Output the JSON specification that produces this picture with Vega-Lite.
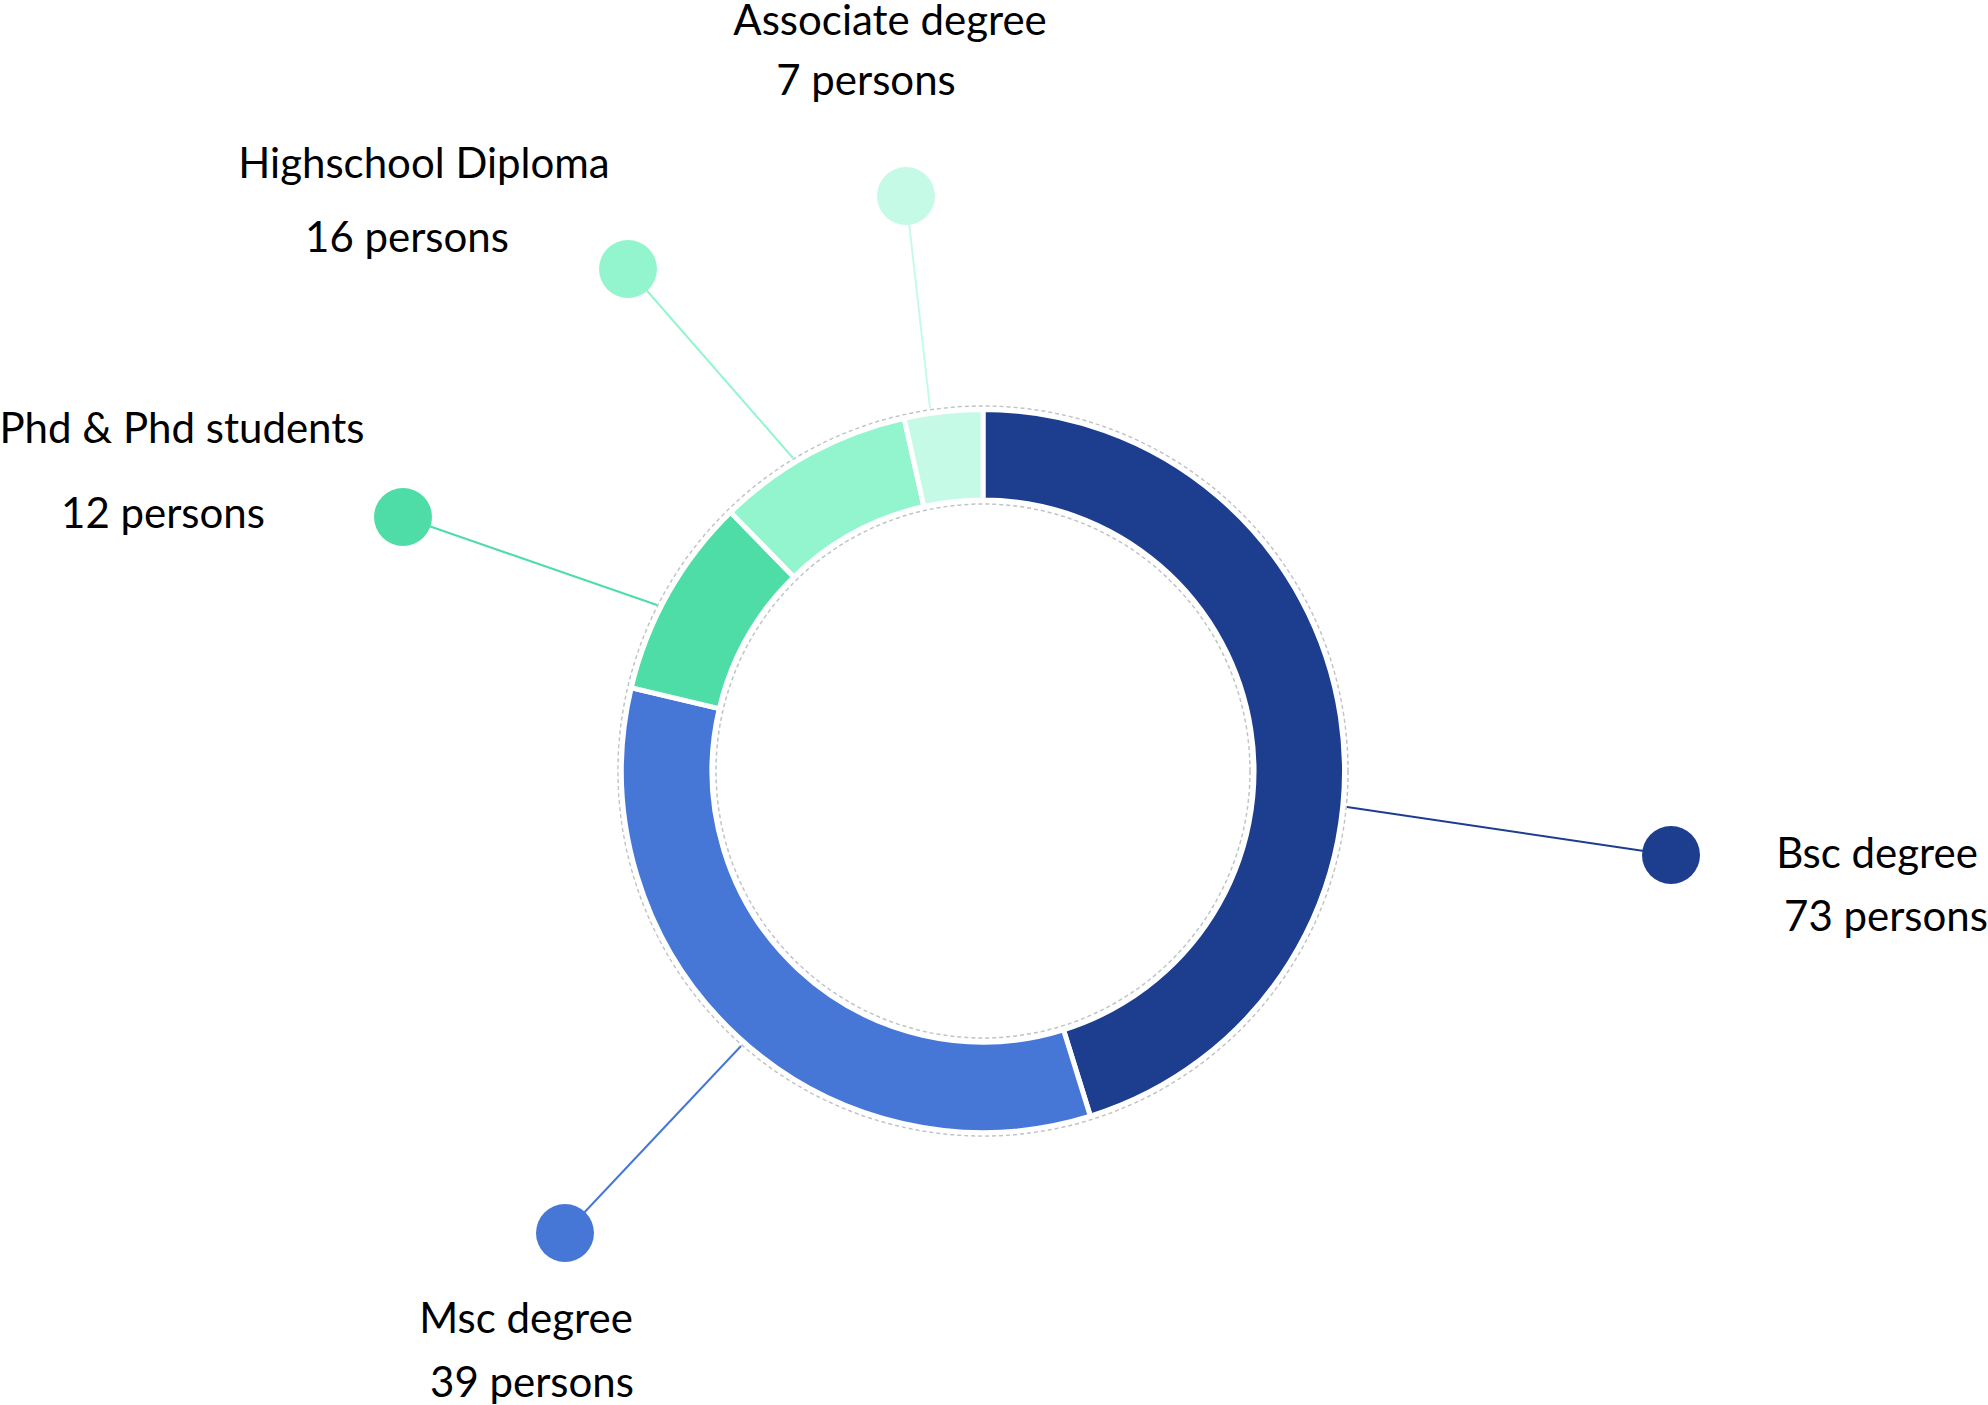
{
  "$schema": "https://vega.github.io/schema/vega-lite/v6.json",
  "width": 1966,
  "height": 1268,
  "autosize": {"type": "none"},
  "padding": {"left": 0, "top": 137, "right": 22, "bottom": 0},
  "background": "white",
  "config": {"view": {"stroke": null}, "axis": {"disable": true}},
  "datasets": {
    "degrees": [
      {"category": "Bsc degree", "persons": 73, "arc_share": 45.2, "rank": 1, "dot_x": 688, "dot_y": 84, "edge_x": 364, "edge_y": 36},
      {"category": "Msc degree", "persons": 39, "arc_share": 33.5, "rank": 2, "dot_x": -418, "dot_y": 462, "edge_x": -242, "edge_y": 275},
      {"category": "Phd & Phd students", "persons": 12, "arc_share": 9.0, "rank": 3, "dot_x": -580, "dot_y": -254, "edge_x": -326, "edge_y": -166},
      {"category": "Highschool Diploma", "persons": 16, "arc_share": 8.8, "rank": 4, "dot_x": -355, "dot_y": -502, "edge_x": -190, "edge_y": -313},
      {"category": "Associate degree", "persons": 7, "arc_share": 3.5, "rank": 5, "dot_x": -77, "dot_y": -575, "edge_x": -53, "edge_y": -363}
    ],
    "labels": [
      {"category": "Associate degree", "text": "Associate degree", "cx": -93, "cy": -736},
      {"category": "Associate degree", "text": "7 persons", "cx": -117, "cy": -676},
      {"category": "Highschool Diploma", "text": "Highschool Diploma", "cx": -559, "cy": -593},
      {"category": "Highschool Diploma", "text": "16 persons", "cx": -576, "cy": -519},
      {"category": "Phd & Phd students", "text": "Phd & Phd students", "cx": -801, "cy": -328},
      {"category": "Phd & Phd students", "text": "12 persons", "cx": -820, "cy": -243},
      {"category": "Bsc degree", "text": "Bsc degree", "cx": 894, "cy": 97},
      {"category": "Bsc degree", "text": "73 persons", "cx": 903, "cy": 160},
      {"category": "Msc degree", "text": "Msc degree", "cx": -457, "cy": 562},
      {"category": "Msc degree", "text": "39 persons", "cx": -451, "cy": 626}
    ]
  },
  "layer": [
    {
      "data": {"values": [{"ring": "outer"}]},
      "mark": {"type": "point", "shape": "circle", "filled": false, "size": 532900, "stroke": "#bfc4c5", "strokeWidth": 1.5, "strokeDash": [4, 3], "opacity": 1},
      "encoding": {
        "x": {"datum": 0, "type": "quantitative", "scale": {"domain": [-983, 983], "nice": false, "zero": false}},
        "y": {"datum": 0, "type": "quantitative", "scale": {"domain": [-634, 634], "reverse": true, "nice": false, "zero": false}}
      }
    },
    {
      "data": {"values": [{"ring": "inner"}]},
      "mark": {"type": "point", "shape": "circle", "filled": false, "size": 285156, "stroke": "#bfc4c5", "strokeWidth": 1.5, "strokeDash": [4, 3], "opacity": 1},
      "encoding": {
        "x": {"datum": 0, "type": "quantitative", "scale": {"domain": [-983, 983], "nice": false, "zero": false}},
        "y": {"datum": 0, "type": "quantitative", "scale": {"domain": [-634, 634], "reverse": true, "nice": false, "zero": false}}
      }
    },
    {
      "data": {"name": "degrees"},
      "mark": {"type": "arc", "outerRadius": 361.5, "innerRadius": 271, "stroke": "white", "strokeWidth": 5},
      "encoding": {
        "theta": {"field": "arc_share", "type": "quantitative", "stack": true},
        "order": {"field": "rank", "type": "quantitative"},
        "color": {
          "field": "category", "type": "nominal", "legend": null,
          "scale": {
            "domain": ["Bsc degree", "Msc degree", "Phd & Phd students", "Highschool Diploma", "Associate degree"],
            "range": ["#1d3e8e", "#4777d6", "#4edda7", "#93f5cd", "#c5fbe6"]
          }
        }
      }
    },
    {
      "data": {"name": "degrees"},
      "mark": {"type": "rule", "strokeWidth": 2},
      "encoding": {
        "x": {"field": "edge_x", "type": "quantitative", "scale": {"domain": [-983, 983], "nice": false, "zero": false}},
        "y": {"field": "edge_y", "type": "quantitative", "scale": {"domain": [-634, 634], "reverse": true, "nice": false, "zero": false}},
        "x2": {"field": "dot_x"},
        "y2": {"field": "dot_y"},
        "color": {"field": "category", "type": "nominal", "legend": null}
      }
    },
    {
      "data": {"name": "degrees"},
      "mark": {"type": "point", "shape": "circle", "filled": true, "size": 3364, "opacity": 1},
      "encoding": {
        "x": {"field": "dot_x", "type": "quantitative", "scale": {"domain": [-983, 983], "nice": false, "zero": false}},
        "y": {"field": "dot_y", "type": "quantitative", "scale": {"domain": [-634, 634], "reverse": true, "nice": false, "zero": false}},
        "color": {"field": "category", "type": "nominal", "legend": null}
      }
    },
    {
      "data": {"name": "labels"},
      "mark": {"type": "text", "font": "Lato", "fontSize": 42, "align": "center", "baseline": "alphabetic", "color": "#000000"},
      "encoding": {
        "x": {"field": "cx", "type": "quantitative", "scale": {"domain": [-983, 983], "nice": false, "zero": false}},
        "y": {"field": "cy", "type": "quantitative", "scale": {"domain": [-634, 634], "reverse": true, "nice": false, "zero": false}},
        "text": {"field": "text", "type": "nominal"}
      }
    }
  ]
}
